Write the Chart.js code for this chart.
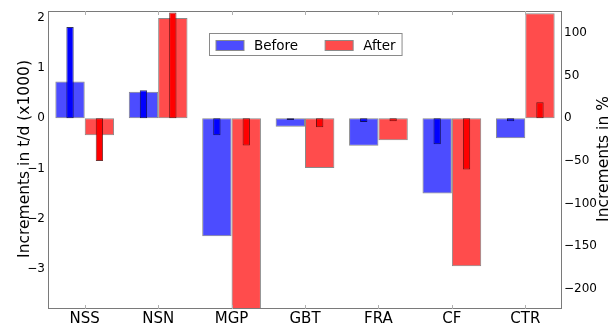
<!DOCTYPE html>
<html>
<head>
<meta charset="utf-8">
<title>Increments before / after</title>
<script src="https://cdn.jsdelivr.net/npm/chart.js@4/dist/chart.umd.min.js"></script>
<style>
  html, body { margin: 0; padding: 0; background: #fff; }
  #wrap { width: 609px; height: 324px; }
</style>
</head>
<body>
<div id="wrap"><canvas id="myChart" width="609" height="324"></canvas></div>
<script>
// categories on the x axis
const categories = ['NSS', 'NSN', 'MGP', 'GBT', 'FRA', 'CF', 'CTR'];

// wide bars, increments in t/d (x1000), left axis
const beforeTons = [0.73, 0.53, -2.35, -0.17, -0.55, -1.50, -0.40];
const afterTons  = [-0.34, 2.00, -4.00, -0.99, -0.44, -2.95, 2.09];

// narrow bars, increments in %, right axis
const beforePct = [107, 33, -20, -2, -4.4, -30.5, -3.5];
const afterPct  = [-50, 124, -32, -10.5, -3.5, -60, 18.8];

// tick labels
const leftTicks  = [-3, -2, -1, 0, 1, 2];
const rightTicks = [-200, -150, -100, -50, 0, 50, 100];

const leftTitle = 'Increments in t/d (x1000)';
const rightTitle = 'Increments in %';

const FONT = "'DejaVu Sans', sans-serif";
Chart.defaults.font.family = FONT;
Chart.defaults.color = '#000';

function minusLabel(v) {
  return v < 0 ? '\u2212' + Math.abs(v) : String(v);
}

// frame, small x ticks, legend box and the two axis titles
const decorPlugin = {
  id: 'decor',
  afterDatasetsDraw(chart) {
    const {ctx, chartArea: a, scales} = chart;
    ctx.save();
    ctx.strokeStyle = '#7a7a7a';
    ctx.lineWidth = 1;
    ctx.strokeRect(a.left + 0.5, a.top + 0.5, a.right - a.left - 1, a.bottom - a.top - 1);

    ctx.beginPath();
    scales.x.ticks.forEach((t, i) => {
      const x = Math.round(scales.x.getPixelForTick(i)) + 0.5;
      ctx.moveTo(x, a.bottom); ctx.lineTo(x, a.bottom - 4);
      ctx.moveTo(x, a.top); ctx.lineTo(x, a.top + 4);
    });
    ctx.strokeStyle = '#b0b0b0';
    ctx.stroke();
    ctx.restore();
  },
  afterDraw(chart) {
    const {ctx, chartArea: a} = chart;
    ctx.save();

    // legend (wide bars only)
    const items = chart.data.datasets.filter(d => d.inLegend);
    ctx.font = '13.5px ' + FONT;
    const patchW = 28, patchH = 10, gap = 10, itemGap = 27, pad = 6.5;
    let w = pad * 2 + itemGap * (items.length - 1);
    items.forEach(d => { w += patchW + gap + ctx.measureText(d.label).width; });
    const h = 22;
    const bx = Math.round((a.left + a.right) / 2 - w / 2) + 0.5;
    const by = a.top + 22.5;
    ctx.fillStyle = '#fff';
    ctx.fillRect(bx, by, w, h);
    ctx.strokeStyle = '#8a8a8a';
    ctx.strokeRect(bx, by, w, h);
    let x = bx + pad;
    items.forEach(d => {
      ctx.fillStyle = d.backgroundColor;
      ctx.fillRect(x, by + 7, patchW, patchH);
      ctx.strokeStyle = d.borderColor;
      ctx.strokeRect(x, by + 7, patchW, patchH);
      x += patchW + gap;
      ctx.fillStyle = '#000';
      ctx.textBaseline = 'alphabetic';
      ctx.textAlign = 'left';
      ctx.fillText(d.label, x, by + 16.5);
      x += ctx.measureText(d.label).width + itemGap;
    });

    // axis titles, both read bottom to top
    ctx.font = '15.5px ' + FONT;
    ctx.textAlign = 'center';
    ctx.textBaseline = 'alphabetic';
    ctx.fillStyle = '#000';
    const cy = (a.top + a.bottom) / 2 - 1;
    [[28.5, leftTitle], [608, rightTitle]].forEach(([tx, text]) => {
      ctx.save();
      ctx.translate(tx, cy);
      ctx.rotate(-Math.PI / 2);
      ctx.fillText(text, 0, 0);
      ctx.restore();
    });
    ctx.restore();
  }
};

const ctx = document.getElementById('myChart').getContext('2d');
new Chart(ctx, {
  type: 'bar',
  data: {
    labels: categories,
    datasets: [
      {
        label: 'Before', data: beforeTons, inLegend: true,
        yAxisID: 'y', stack: 'before', order: 1,
        backgroundColor: 'rgba(0,0,255,0.7)', borderColor: '#8a8a8a',
        borderWidth: 1, borderSkipped: false,
        categoryPercentage: 0.8, barPercentage: 1.0
      },
      {
        label: 'After', data: afterTons, inLegend: true,
        yAxisID: 'y', stack: 'after', order: 1,
        backgroundColor: 'rgba(255,0,0,0.7)', borderColor: '#8a8a8a',
        borderWidth: 1, borderSkipped: false,
        categoryPercentage: 0.8, barPercentage: 1.0
      },
      {
        label: 'Before %', data: beforePct,
        yAxisID: 'y2', stack: 'before', order: 0,
        backgroundColor: '#0000ff', borderColor: 'rgba(0,0,60,0.8)',
        borderWidth: 1, borderSkipped: false,
        categoryPercentage: 0.8, barPercentage: 0.25
      },
      {
        label: 'After %', data: afterPct,
        yAxisID: 'y2', stack: 'after', order: 0,
        backgroundColor: '#ff0000', borderColor: 'rgba(80,0,0,0.8)',
        borderWidth: 1, borderSkipped: false,
        categoryPercentage: 0.8, barPercentage: 0.25
      }
    ]
  },
  options: {
    responsive: false,
    animation: false,
    devicePixelRatio: 1,
    layout: { padding: { top: 11, left: 0, right: 0, bottom: 0 } },
    plugins: {
      legend: { display: false },
      tooltip: { enabled: false }
    },
    scales: {
      x: {
        position: 'bottom',
        offset: true,
        grid: { display: false, drawTicks: false },
        border: { display: false },
        ticks: { font: { size: 15 }, padding: 1, maxRotation: 0, autoSkip: false },
        afterFit: s => { s.height = 15; }
      },
      y: {
        position: 'left',
        stacked: false,
        min: -3.80, max: 2.137,
        grid: { display: false, drawTicks: false },
        border: { display: false },
        afterBuildTicks: s => { s.ticks = leftTicks.map(v => ({ value: v })); },
        ticks: { font: { size: 12 }, padding: 3, callback: v => minusLabel(v) },
        afterFit: s => { s.width = 48; }
      },
      y2: {
        position: 'right',
        stacked: false,
        min: -223.8, max: 125.9,
        grid: { display: false, drawTicks: false },
        border: { display: false },
        afterBuildTicks: s => { s.ticks = rightTicks.map(v => ({ value: v })); },
        ticks: { font: { size: 12 }, padding: 2, callback: v => minusLabel(v) },
        afterFit: s => { s.width = 47; }
      }
    }
  },
  plugins: [decorPlugin]
});
</script>
</body>
</html>
